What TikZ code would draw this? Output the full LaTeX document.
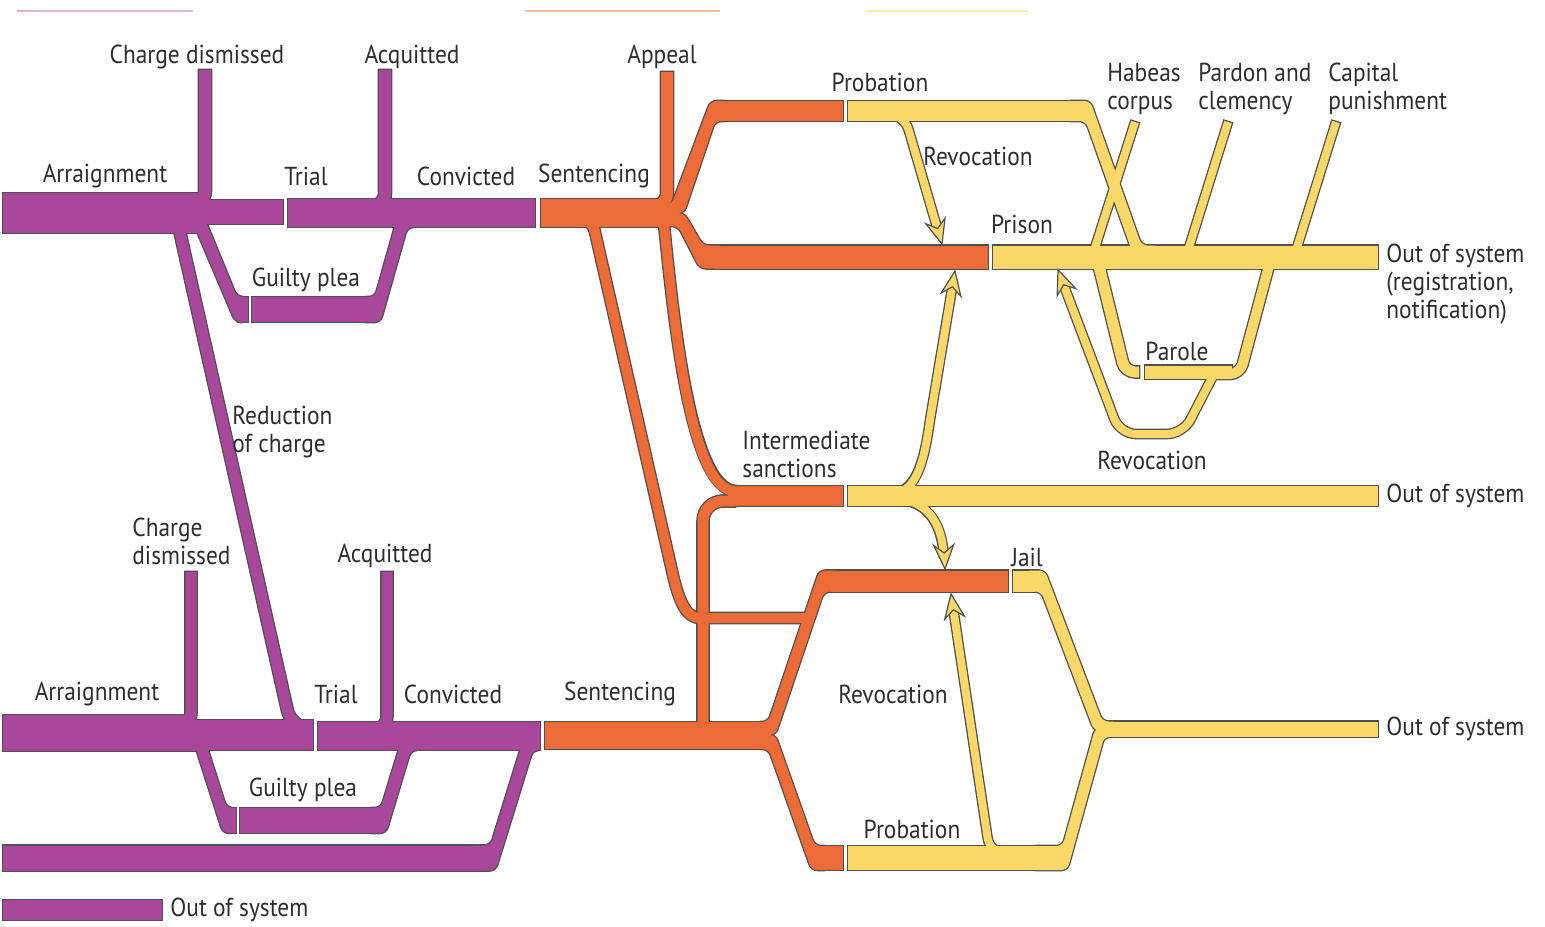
\documentclass[tikz,border=0pt]{standalone}
\usepackage{fontspec}
\setmainfont{PT Sans}[FakeStretch=0.9]
\pgfdeclarelayer{bg}
\pgfsetlayers{bg,main}
\definecolor{pur}{RGB}{169,71,155}
\definecolor{ora}{RGB}{236,107,55}
\definecolor{yel}{RGB}{249,216,103}
\definecolor{edge}{RGB}{80,80,80}
\definecolor{txt}{RGB}{45,45,45}
\newcommand\pipe[4][]{%
  \begin{pgfonlayer}{bg}\draw[#1,line width=(#3+2.6)*0.5pt,draw=edge,shorten <=-0.65pt,shorten >=-0.65pt] #4;\end{pgfonlayer}
  \draw[#1,line width=#3*0.5pt,draw=#2] #4;}
\newcommand\blob[2]{%
  \begin{pgfonlayer}{bg}\draw[rounded corners=3pt,line width=1.3pt,draw=edge] #2;\end{pgfonlayer}
  \fill[rounded corners=3pt,#1] #2;}
\newcommand\ahead[2]{\filldraw[fill=yel,draw=edge,line width=0.6pt,line join=miter,shift={#1},rotate=#2] (0,0) -- (-24,-10) -- (-16,0) -- (-24,10) -- cycle;}
\begin{document}
\begin{tikzpicture}[x=0.5pt,y=-0.5pt,line cap=butt,line join=round,
  lbl/.style={font=\fontsize{13}{14}\selectfont,text=txt,inner sep=0pt}]
\useasboundingbox (0,0) rectangle (1545,926);
% faint top rules
\draw[pur!40,line width=1.2pt] (17,11) -- (193,11);
\draw[ora!45,line width=1.2pt] (525,11) -- (720,11);
\draw[yel!55,line width=1.2pt] (866,11) -- (1028,11);

% ---------------- PURPLE TOP ----------------
\pipe{pur}{40}{(3,213) -- (200,213)}
\pipe{pur}{24}{(190,212) -- (283,212)}
\pipe{pur}{28}{(288,213) -- (535,213)}
\pipe[rounded corners=7pt]{pur}{12}{(160,205) -- (205,205) -- (205,70)}
\pipe[rounded corners=7pt]{pur}{12}{(340,207) -- (385,207) -- (385,70)}
\pipe{pur}{25}{(238,309.5) -- (248,309.5)}
\blob{pur}{(188.7,212) -- (201.9,212) -- (236.9,297) -- (246,297) -- (246,322) -- (235.5,322) -- cycle}
\pipe{pur}{25}{(252,309.5) -- (370,309.5)}
\blob{pur}{(360,297) -- (375,297) -- (397.3,218) -- (415,218) -- (415,227) -- (407.3,227) -- (380.4,322) -- (360,322) -- cycle}
\pipe[rounded corners=6pt]{pur}{11}{(176,215) -- (290,722) -- (305,728)}

% ---------------- PURPLE BOTTOM ----------------
\pipe{pur}{36}{(3,733) -- (195,733)}
\pipe{pur}{30}{(190,735) -- (313,735)}
\pipe{pur}{28}{(318,736) -- (540,736)}
\pipe[rounded corners=7pt]{pur}{11}{(140,727) -- (191,727) -- (191,572)}
\pipe[rounded corners=7pt]{pur}{11}{(340,730) -- (387,730) -- (387,572)}
\pipe{pur}{25}{(228,820.5) -- (236,820.5)}
\blob{pur}{(192.6,738) -- (204.2,738) -- (226.5,808) -- (234,808) -- (234,833) -- (223.1,833) -- cycle}
\pipe{pur}{25}{(240,820.5) -- (375,820.5)}
\blob{pur}{(365,808) -- (381,808) -- (401.1,742) -- (420,742) -- (420,750) -- (410.8,750) -- (385.9,833) -- (365,833) -- cycle}
\pipe{pur}{25}{(3,858) -- (480,858)}
\blob{pur}{(470,845.5) -- (490.6,845.5) -- (522.7,742) -- (538,742) -- (538,750) -- (532.7,750) -- (495.4,870.5) -- (470,870.5) -- cycle}
\pipe{pur}{20}{(3,910) -- (162,910)}

% ---------------- ORANGE TOP ----------------
\pipe{ora}{28}{(541,213) -- (662,213)}
\pipe[rounded corners=7pt]{ora}{12}{(620,207) -- (667,207) -- (667,72)}
\blob{ora}{(655,205) -- (671.5,205) -- (710.6,101) -- (730,101) -- (730,121) -- (715.1,121) -- (684,213) -- (655,213) -- cycle}
\pipe{ora}{20}{(720,111) -- (843,111)}
\blob{ora}{(655,213) -- (684,213) -- (703,245.5) -- (725,245.5) -- (725,268.5) -- (700,268.5) -- (678,226) -- (655,226) -- cycle}
\pipe{ora}{23}{(715,257) -- (988,257)}
\pipe[rounded corners=6pt]{ora}{10}{(548,219) -- (592,219) -- (670,562) .. controls (680,606) and (688,618) .. (712,618) -- (812,618)}
\pipe{ora}{10}{(663,215) .. controls (672,300) and (688,491) .. (735,491)}
\pipe[rounded corners=10pt]{ora}{11}{(703,740) -- (703,501) -- (735,501)}
\pipe{ora}{20}{(728,496) -- (843,496)}

% ---------------- ORANGE BOTTOM ----------------
\pipe{ora}{27}{(545,735.5) -- (760,735.5)}
\blob{ora}{(755,722) -- (768.2,722) -- (819.4,570.5) -- (840,570.5) -- (840,591.5) -- (823.9,591.5) -- (775.4,735) -- (755,735) -- cycle}
\pipe{ora}{21}{(830,581) -- (1008,581)}
\blob{ora}{(755,735) -- (775.4,735) -- (814.7,846) -- (830,846) -- (830,870) -- (811.5,870) -- (768.6,749) -- (755,749) -- cycle}
\pipe{ora}{24}{(822,858) -- (843,858)}

% ---------------- YELLOW ----------------
\pipe{yel}{20}{(848,111) -- (1075,111)}
\blob{yel}{(1065,101) -- (1090.3,101) -- (1141.5,245.5) -- (1160,245.5) -- (1160,252) -- (1132.2,252) -- (1085.7,121) -- (1065,121) -- cycle}
\pipe{yel}{23}{(993,257) -- (1378,257)}
\pipe{yel}{8}{(1092,257) -- (1135,122)}
\pipe{yel}{8}{(1186,257) -- (1228,122)}
\pipe{yel}{8}{(1294,257) -- (1336,122)}
\pipe[rounded corners=5pt]{yel}{11}{(1098,262) -- (1125,372) -- (1139,372)}
\pipe{yel}{13}{(1145,372) -- (1232,372)}
\pipe[rounded corners=5pt]{yel}{10}{(1215,374) -- (1240,374) -- (1270,262)}
\pipe[rounded corners=8pt]{yel}{8}{(1214,374) -- (1183,434) -- (1120,434) -- (1062.2,281)}
\pipe{yel}{20}{(848,496) -- (1378,496)}
\pipe{yel}{21}{(1013,581) -- (1035,581)}
\blob{yel}{(1025,570.5) -- (1044.9,570.5) -- (1102.4,721.5) -- (1118,721.5) -- (1118,731) -- (1094.3,731) -- (1041.1,591.5) -- (1025,591.5) -- cycle}
\pipe{yel}{24}{(848,858) -- (1040,858)}
\blob{yel}{(1030,846) -- (1062.6,846) -- (1095.2,728) -- (1118,728) -- (1118,736.5) -- (1104.3,736.5) -- (1067.4,870) -- (1030,870) -- cycle}
\pipe{yel}{15}{(1100,729) -- (1378,729)}
% revocation arrows
\pipe[rounded corners=8pt]{yel}{8}{(880,114) -- (904,114) -- (938.5,232.5)}
\pipe{yel}{8}{(893,493) .. controls (918,493) and (925,455) .. (930,420) -- (953,282.8)}
\pipe{yel}{8}{(893,499) .. controls (925,499) and (942,520) .. (944,557)}
\pipe[rounded corners=8pt]{yel}{8}{(1012,854) -- (990,854) -- (952.8,605.9)}
\ahead{(942,244)}{-74}
\ahead{(955,271)}{80.4}
\ahead{(945,569)}{-87}
\ahead{(951,594)}{98.6}
\ahead{(1058,269.8)}{110.7}

% ---------------- LABELS ----------------
\node[lbl] (tCD1) at (197,57) {Charge dismissed};
\node[lbl] (tAQ1) at (412,57) {Acquitted};
\node[lbl] (tAP) at (662,57) {Appeal};
\node[lbl] (tAR1) at (105,176) {Arraignment};
\node[lbl] (tTR1) at (306,176) {Trial};
\node[lbl] (tCV1) at (466,176) {Convicted};
\node[lbl] (tSE1) at (594,176) {Sentencing};
\node[lbl] (tGP1) at (306,280) {Guilty plea};
\node[lbl] (tPB1) at (880,82) {Probation};
\node[lbl] (tRV1) at (978,156) {Revocation};
\node[lbl] (tPR) at (1022,224) {Prison};
\node[lbl,align=left,anchor=west] (tHC) at (1107,89) {Habeas\\corpus};
\node[lbl,align=left,anchor=west] (tPC) at (1198,89) {Pardon and\\clemency};
\node[lbl,align=left,anchor=west] (tCP) at (1328,89) {Capital\\punishment};
\node[lbl] (tPA) at (1177,351) {Parole};
\node[lbl] (tRV2) at (1152,460) {Revocation};
\node[lbl,align=left,anchor=west] (tRC) at (232,432) {Reduction\\of charge};
\node[lbl,align=left,anchor=west] (tIS) at (742,454) {Intermediate\\sanctions};
\node[lbl,align=left,anchor=west] (tCD2) at (132,541) {Charge\\dismissed};
\node[lbl] (tAQ2) at (385,556) {Acquitted};
\node[lbl] (tJA) at (1027,557) {Jail};
\node[lbl] (tAR2) at (97,694) {Arraignment};
\node[lbl] (tTR2) at (336,694) {Trial};
\node[lbl] (tCV2) at (453,694) {Convicted};
\node[lbl] (tSE2) at (620,694) {Sentencing};
\node[lbl] (tRV3) at (893,694) {Revocation};
\node[lbl] (tGP2) at (303,790) {Guilty plea};
\node[lbl] (tPB2) at (912,829) {Probation};
\node[lbl,anchor=west] (tOS4) at (170,910) {Out of system};
\begin{scope}
\clip (0,0) rectangle (1526,926);
\node[lbl,align=left,anchor=west] (tOS1) at (1386,284) {Out of system\\(registration,\\notification)};
\node[lbl,anchor=west] (tOS2) at (1386,496) {Out of system};
\node[lbl,anchor=west] (tOS3) at (1386,729) {Out of system};
\end{scope}
\end{tikzpicture}
\end{document}
